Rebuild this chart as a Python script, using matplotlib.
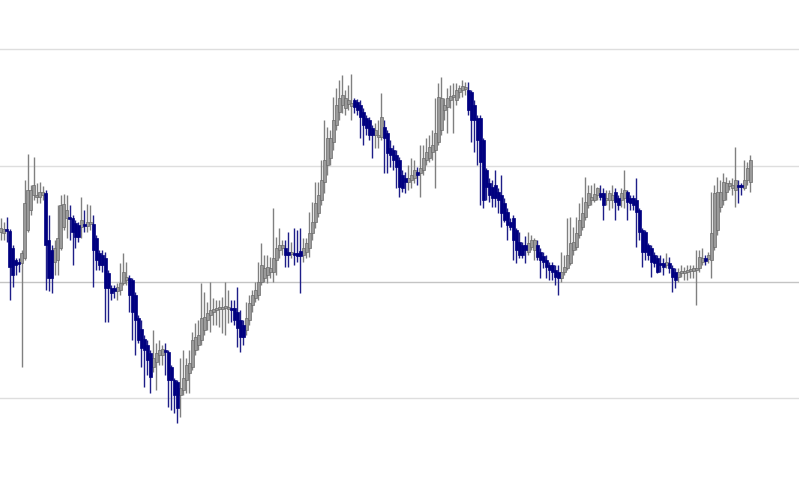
import numpy as np
import matplotlib
matplotlib.use("Agg")
import matplotlib.pyplot as plt

opens = [268,267,271,269,252,240,238,237,242,270,
         290,305,303,303,305,307,260,250,238,240,
         252,273,282,283,282,277,275,273,276,274,
         276,276,262,247,245,242,227,212,212,209,
         210,217,220,222,220,205,182,171,161,155,
         147,133,138,145,145,150,148,133,120,118,
         105,110,120,127,133,150,155,160,170,180,
         185,188,190,191,191,192,191,192,192,188,
         180,175,170,180,195,202,205,218,222,225,
         228,228,240,250,252,252,248,246,247,247,
         249,245,248,252,267,278,287,300,318,335,
         342,358,375,388,395,392,396,394,400,398,
         395,388,382,380,372,365,363,363,373,367,
         352,350,345,340,325,322,318,320,322,328,
         327,330,340,342,348,350,358,370,390,393,
         400,403,400,408,410,411,410,408,395,382,
         382,360,330,317,313,315,308,305,297,288,
         278,282,270,258,255,255,248,253,250,255,
         248,244,240,235,235,230,228,222,228,232,
         237,250,253,265,273,283,295,300,300,305,
         307,307,300,300,300,308,302,300,302,308,
         302,302,300,290,270,268,255,252,245,242,
         237,237,235,237,232,228,223,227,227,228,
         229,229,230,232,238,242,241,240,253,270,
         293,300,308,314,312,310,315,315,312,320,
         318]

highs = [282,278,283,271,255,242,242,250,320,346,
         315,343,317,318,314,310,285,255,260,295,
         305,306,305,295,285,280,278,303,290,296,
         295,285,265,250,250,248,230,215,215,217,
         237,247,238,225,222,208,185,180,165,160,
         150,170,157,160,155,157,150,135,122,120,
         142,150,142,150,168,177,180,217,208,198,
         218,202,200,200,203,218,210,200,200,213,
         190,180,198,205,210,218,238,257,245,245,
         243,292,263,272,260,260,268,258,272,270,
         272,262,262,288,298,318,318,340,380,373,
         370,403,412,420,425,410,415,426,402,401,
         400,392,385,383,375,377,380,407,380,370,
         360,355,350,343,330,328,335,342,340,333,
         355,355,362,365,370,402,417,423,402,412,
         415,417,417,415,420,418,418,410,400,385,
         385,362,332,322,320,330,312,325,302,292,
         282,285,272,268,258,264,268,265,262,260,
         252,248,245,238,238,235,235,248,245,282,
         283,273,283,297,303,323,315,315,317,313,
         315,312,310,310,315,312,305,312,330,310,
         305,305,322,292,272,270,257,255,248,245,
         245,242,247,243,235,232,232,235,233,235,
         235,235,250,250,252,245,248,308,315,323,
         320,327,323,320,322,353,320,317,340,338,
         345]

lows = [260,260,258,200,213,225,228,133,240,268,
        285,300,297,297,300,210,209,207,225,225,
        250,270,262,260,235,252,258,262,268,268,
        270,213,230,230,228,178,178,200,202,200,
        205,215,215,188,160,145,157,133,113,125,
        107,128,110,135,135,125,93,90,87,77,
        83,105,107,107,130,145,150,155,165,170,
        168,175,175,173,167,165,177,178,175,153,
        148,155,165,175,188,198,200,215,218,217,
        222,218,225,242,245,233,233,242,235,238,
        207,238,242,243,260,272,283,295,307,325,
        335,350,370,380,387,385,390,380,387,385,
        362,355,365,360,342,352,352,360,327,327,
        333,330,312,303,308,307,310,312,317,315,
        303,325,335,338,340,312,355,365,380,367,
        392,367,395,402,403,405,385,358,348,335,
        295,292,300,298,293,293,287,273,278,260,
        270,240,237,242,242,237,245,250,240,240,
        222,232,222,220,220,215,205,218,225,230,
        235,245,250,262,270,280,292,295,298,300,
        300,280,295,290,292,280,290,293,292,280,
        290,290,253,260,233,240,240,223,233,227,
        228,225,232,227,208,212,218,223,220,220,
        222,222,195,228,235,235,237,222,250,265,
        288,295,300,310,305,293,297,305,310,315,
        308]

closes = [272,271,269,233,225,235,236,247,297,310,
          310,315,305,308,308,255,222,222,252,262,
          295,296,290,281,268,263,263,280,274,278,
          278,250,240,235,235,212,212,207,209,213,
          217,228,223,205,188,180,160,152,150,140,
          123,142,147,150,151,148,120,120,105,92,
          112,122,135,137,160,163,165,182,183,187,
          190,191,192,193,193,194,193,190,180,172,
          163,163,182,197,205,210,218,235,232,233,
          232,242,252,255,255,245,245,248,245,244,
          244,252,257,267,278,297,305,320,340,362,
          362,380,395,402,405,402,400,397,393,390,
          383,375,372,365,365,370,365,383,362,347,
          345,340,333,313,312,318,322,325,330,325,
          332,342,348,353,355,367,403,402,395,402,
          404,405,410,412,414,413,390,380,380,360,
          338,300,313,305,302,302,300,287,280,275,
          273,260,250,245,245,250,257,260,260,243,
          240,238,233,230,228,223,222,228,233,245,
          257,258,267,280,287,298,307,303,306,312,
          303,295,302,307,305,298,295,307,310,298,
          297,295,288,268,248,248,245,238,237,228,
          235,233,238,232,223,220,228,229,229,230,
          231,232,232,243,242,239,245,267,307,308,
          308,318,317,317,315,320,313,313,320,332,
          340]

grid_levels = [102, 218, 334, 451]

o = np.array(opens, float)
h = np.array(highs, float)
l = np.array(lows, float)
c = np.array(closes, float)
h = np.maximum(h, np.maximum(o, c))
l = np.minimum(l, np.minimum(o, c))
n = len(o)
x = np.arange(n)
up = c >= o

UP_FACE = "#9a9a9a"
UP_EDGE = "#6a6a6a"
UP_WICK = "#808080"
DN_FACE = "#000080"
DN_EDGE = "#000080"
DN_WICK = "#1e1e88"

fig = plt.figure(figsize=(7.99, 4.98), dpi=100)
ax = fig.add_axes([0, 0, 1, 1])
ax.set_xlim(-0.17, 266.2)
ax.set_ylim(2, 500)
ax.axis("off")

for lv in grid_levels:
    col = "#c4c4c4" if lv == 218 else "#dedede"
    ax.axhline(lv, color=col, linewidth=1.0, zorder=0)

ax.vlines(x[up], l[up], h[up], colors=UP_WICK, linewidth=1.0, zorder=2)
ax.vlines(x[~up], l[~up], h[~up], colors=DN_WICK, linewidth=1.0, zorder=2)

bottom = np.minimum(o, c)
height = np.maximum(np.abs(c - o), 1.8)
ax.bar(x[up], height[up], bottom=bottom[up], width=0.82, color=UP_FACE,
       edgecolor=UP_EDGE, linewidth=0.5, zorder=3)
ax.bar(x[~up], height[~up], bottom=bottom[~up], width=0.82, color=DN_FACE,
       edgecolor=DN_EDGE, linewidth=0.5, zorder=3)

fig.savefig("out.png", dpi=100)
